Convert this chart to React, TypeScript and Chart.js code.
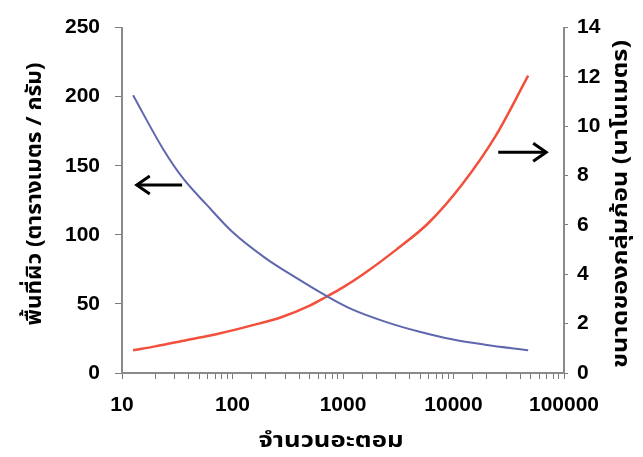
import React, { useEffect, useRef } from 'react';
import { Chart, registerables } from 'chart.js';

Chart.register(...registerables);

// ---- data ----
const areaAtoms = [12.6, 23.6, 35.6, 58, 100, 200, 375, 700, 1210, 2430, 4840, 9660, 19300, 47400];
const surfaceArea = [201, 162, 141, 122, 102, 83, 69, 56, 46, 37, 30, 24.4, 20.5, 16.5];
const sizeAtoms = [12.6, 20, 38, 76, 150, 280, 500, 700, 1000, 1500, 3000, 6000, 12000, 24000, 47400];
const clusterSize = [0.92, 1.08, 1.33, 1.6, 1.93, 2.27, 2.73, 3.08, 3.47, 3.98, 4.98, 6.1, 7.65, 9.6, 12.05];
const xTickLabels = ['10', '100', '1000', '10000', '100000'];
const xTitle = 'จำนวนอะตอม';
const leftTitle = 'พื้นที่ผิว (ตารางเมตร / กรัม)';
const rightTitle = 'ขนาดของกลุ่มก้อน (นาโนเมตร)';
// arrows in data coordinates: [fromX, toX, y]
const leftArrow = [35, 13.6, 136];
const rightArrow = [25400, 69000, 8.95];

const TICK_FONT = { family: '"Liberation Sans", Arial, sans-serif', size: 21, weight: 'bold' as const };
const THAI_FONT = '"Noto Sans Thai", Loma, Garuda, Tahoma, "DejaVu Sans", sans-serif';

const fitText = (ctx: CanvasRenderingContext2D, text: string, width: number) => {
  const w = ctx.measureText(text).width;
  ctx.save();
  ctx.scale(width / w, 1);
  ctx.fillText(text, 0, 0);
  ctx.restore();
};

const overlayPlugin = {
  id: 'overlay',
  afterDraw(chart: any) {
    const ctx = chart.ctx as CanvasRenderingContext2D;
    const xs = chart.scales.x;
    const yl = chart.scales.y;
    const yr = chart.scales.y1;
    ctx.save();
    ctx.fillStyle = '#000';
    ctx.textAlign = 'center';
    ctx.textBaseline = 'middle';
    ctx.font = `bold 21px ${THAI_FONT}`;
    // x title
    ctx.save();
    ctx.translate(331, 443);
    fitText(ctx, xTitle, 145);
    ctx.restore();
    // left title
    ctx.save();
    ctx.translate(37, 194);
    ctx.rotate(-Math.PI / 2);
    fitText(ctx, leftTitle, 263);
    ctx.restore();
    // right title
    ctx.save();
    ctx.translate(623, 204);
    ctx.rotate(-Math.PI / 2);
    fitText(ctx, rightTitle, 328);
    ctx.restore();

    const drawArrow = (x1: number, x2: number, y: number) => {
      const dir = Math.sign(x2 - x1);
      ctx.strokeStyle = '#000';
      ctx.lineWidth = 3;
      ctx.lineCap = 'butt';
      ctx.beginPath();
      ctx.moveTo(x1, y);
      ctx.lineTo(x2 - dir * 2, y);
      ctx.stroke();
      ctx.beginPath();
      ctx.moveTo(x2 - dir * 13, y - 9);
      ctx.lineTo(x2, y);
      ctx.lineTo(x2 - dir * 13, y + 9);
      ctx.stroke();
    };
    drawArrow(xs.getPixelForValue(leftArrow[0]), xs.getPixelForValue(leftArrow[1]), yl.getPixelForValue(leftArrow[2]));
    drawArrow(xs.getPixelForValue(rightArrow[0]), xs.getPixelForValue(rightArrow[1]), yr.getPixelForValue(rightArrow[2]));
    ctx.restore();
  },
};

export default function App() {
  const ref = useRef<HTMLCanvasElement>(null);
  useEffect(() => {
    const chart = new Chart(ref.current!, {
      type: 'line',
      data: {
        datasets: [
          {
            label: 'area',
            data: areaAtoms.map((x, i) => ({ x, y: surfaceArea[i] })),
            borderColor: '#5f67ad',
            borderWidth: 2,
            pointRadius: 0,
            cubicInterpolationMode: 'monotone',
            yAxisID: 'y',
          },
          {
            label: 'size',
            data: sizeAtoms.map((x, i) => ({ x, y: clusterSize[i] })),
            borderColor: '#f2503c',
            borderWidth: 2.5,
            pointRadius: 0,
            cubicInterpolationMode: 'monotone',
            yAxisID: 'y1',
          },
        ],
      },
      options: {
        animation: false,
        responsive: false,
        events: [],
        layout: { padding: { top: 24, left: 0, right: 0, bottom: 0 } },
        plugins: { legend: { display: false }, tooltip: { enabled: false } },
        scales: {
          x: {
            type: 'logarithmic',
            min: 10,
            max: 100000,
            position: 'bottom',
            grid: { drawOnChartArea: false, tickLength: 6, color: '#7a7a7a', lineWidth: 1 },
            border: { color: '#8a8a8a', width: 2 },
            ticks: {
              autoSkip: false,
              maxRotation: 0,
              padding: 14,
              color: '#000',
              font: TICK_FONT,
              callback: (v: any) => (xTickLabels.includes(String(v)) ? String(v) : ''),
            },
            afterFit: (s: any) => {
              s.height = 84;
            },
          },
          y: {
            type: 'linear',
            position: 'left',
            min: 0,
            max: 250,
            grid: { drawOnChartArea: false, tickLength: 7, color: '#7a7a7a' },
            border: { color: '#8a8a8a', width: 2 },
            ticks: { stepSize: 50, padding: 15, color: '#000', font: TICK_FONT },
            afterFit: (s: any) => {
              s.width = 122;
            },
          },
          y1: {
            type: 'linear',
            position: 'right',
            min: 0,
            max: 14,
            grid: { drawOnChartArea: false, tickLength: 4, color: '#7a7a7a' },
            border: { color: '#8a8a8a', width: 2 },
            ticks: { stepSize: 2, padding: 9, color: '#000', font: TICK_FONT },
            afterFit: (s: any) => {
              s.width = 79;
            },
          },
        },
      },
      plugins: [overlayPlugin],
    } as any);
    return () => chart.destroy();
  }, []);
  return (
    <div style={{ position: 'fixed', left: 0, top: 0, width: 643, height: 457, background: '#fff' }}>
      <canvas ref={ref} width={643} height={457} style={{ width: 643, height: 457 }} />
    </div>
  );
}
